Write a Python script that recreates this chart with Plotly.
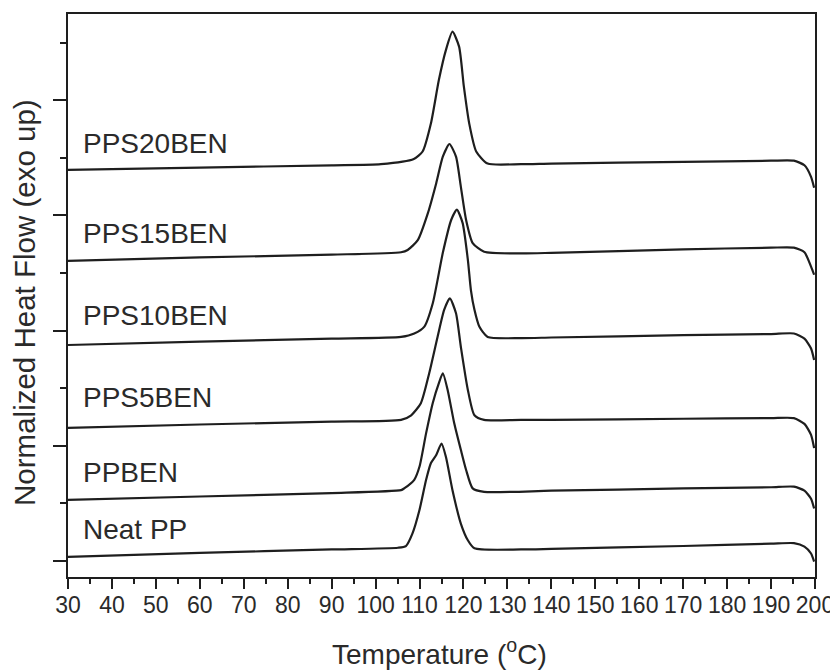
import plotly.graph_objects as go

# Temperature (°C) and normalized heat flow (arbitrary units, offset traces)
temp_neat = [30, 60, 90, 105.1, 106.9, 108.4, 110.0, 111.5, 112.6, 113.8, 115.0, 116.0, 117.5, 119.4, 121.0, 122.5, 133.1, 140, 170, 190, 195.2, 197.6, 199.1, 199.8]
hf_neat = [0.07, 0.14, 0.20, 0.23, 0.26, 0.48, 0.89, 1.41, 1.70, 1.84, 2.04, 1.81, 1.23, 0.65, 0.36, 0.22, 0.20, 0.21, 0.26, 0.30, 0.31, 0.25, 0.13, -0.01]

temp_ppben = [30, 60, 90, 105.8, 106.5, 108.8, 110.0, 111.5, 113.0, 114.5, 115.3, 116.4, 117.9, 119.4, 120.6, 122.1, 124.7, 140, 170, 190, 195.2, 197.6, 199.1, 199.8]
hf_ppben = [1.06, 1.12, 1.18, 1.23, 1.26, 1.41, 1.64, 2.22, 2.74, 3.11, 3.26, 2.97, 2.39, 1.93, 1.58, 1.26, 1.20, 1.22, 1.26, 1.28, 1.29, 1.22, 1.08, 0.91]

temp_pps5 = [30, 60, 90, 105.8, 108.1, 110.3, 112.2, 114.1, 115.6, 116.9, 118.3, 119.4, 121.0, 122.5, 124.7, 133.1, 140, 170, 190, 195.2, 197.6, 199.1, 199.8]
hf_pps5 = [2.31, 2.37, 2.42, 2.45, 2.53, 2.74, 3.26, 3.89, 4.36, 4.56, 4.30, 3.72, 2.97, 2.53, 2.45, 2.45, 2.45, 2.47, 2.48, 2.48, 2.38, 2.19, 1.96]

temp_pps10 = [30, 60, 90, 105.8, 108.8, 111.1, 113.0, 115.3, 117.2, 118.5, 119.8, 121.0, 121.7, 122.5, 123.6, 125.5, 133.1, 140, 170, 190, 195.2, 197.6, 199.1, 199.8]
hf_pps10 = [3.75, 3.81, 3.86, 3.89, 3.95, 4.07, 4.47, 5.35, 5.92, 6.10, 5.87, 5.23, 4.70, 4.36, 4.07, 3.89, 3.87, 3.88, 3.92, 3.94, 3.95, 3.86, 3.69, 3.49]

temp_pps15 = [30, 60, 90, 105.8, 107.3, 109.6, 111.9, 113.8, 115.3, 116.8, 118.3, 119.4, 120.6, 122.1, 124.7, 133.1, 140, 170, 190, 195.2, 197.6, 199.1, 199.8]
hf_pps15 = [5.21, 5.27, 5.32, 5.36, 5.40, 5.57, 6.04, 6.56, 7.02, 7.24, 7.02, 6.50, 5.92, 5.52, 5.37, 5.34, 5.35, 5.41, 5.44, 5.44, 5.36, 5.11, 4.97]

temp_pps20 = [30, 60, 90, 101.2, 108.7, 110.7, 112.6, 114.4, 116.0, 117.5, 119.0, 120.1, 121.3, 122.9, 125.5, 133.1, 140, 170, 190, 195.2, 197.6, 199.1, 199.8]
hf_pps20 = [6.79, 6.83, 6.87, 6.89, 6.98, 7.11, 7.60, 8.35, 8.87, 9.19, 8.93, 8.23, 7.60, 7.11, 6.90, 6.89, 6.90, 6.93, 6.95, 6.95, 6.87, 6.67, 6.48]

series_names = ["Neat PP", "PPBEN", "PPS5BEN", "PPS10BEN", "PPS15BEN", "PPS20BEN"]
series_temps = [temp_neat, temp_ppben, temp_pps5, temp_pps10, temp_pps15, temp_pps20]
series_flows = [hf_neat, hf_ppben, hf_pps5, hf_pps10, hf_pps15, hf_pps20]

label_x = [33.0, 33.0, 33.0, 33.0, 33.0, 33.0]
label_y = [0.54, 1.53, 2.83, 4.27, 5.68, 7.24]

x_ticks = list(range(30, 201, 10))
y_major = [0, 2, 4, 6, 8]
y_minor = [1, 3, 5, 7, 9]

FONT = "Liberation Sans, Arial, sans-serif"
INK = "#1e1e1e"
TXT = "#2a2a2a"

fig = go.Figure()
for name, t, h in zip(series_names, series_temps, series_flows):
    fig.add_trace(go.Scatter(
        x=t, y=h, mode="lines", name=name,
        line=dict(color=INK, width=2.2, shape="spline", smoothing=0.6),
        showlegend=False, hoverinfo="x+y+name",
    ))

for name, lx, ly in zip(series_names, label_x, label_y):
    fig.add_annotation(x=lx, y=ly, text=name, showarrow=False,
                       xanchor="left", yanchor="middle",
                       font=dict(family=FONT, size=28, color=TXT))

# axis titles
fig.add_annotation(xref="paper", yref="paper", x=0.497, y=-0.133,
                   text="Temperature (<sup>o</sup>C)", showarrow=False,
                   xanchor="center", yanchor="middle",
                   font=dict(family=FONT, size=28, color=TXT))
fig.add_annotation(xref="paper", yref="paper", x=-0.058, y=0.488,
                   text="Normalized Heat Flow (exo up)", showarrow=False,
                   textangle=-90, xanchor="center", yanchor="middle",
                   font=dict(family=FONT, size=29.5, color=TXT))

fig.update_layout(
    width=838, height=672,
    margin=dict(l=60, r=31, t=6, b=103),
    paper_bgcolor="white", plot_bgcolor="white",
    font=dict(family=FONT, color=TXT),
    xaxis=dict(
        range=[30, 200], tickvals=x_ticks, ticktext=[str(v) for v in x_ticks],
        ticks="outside", ticklen=10, tickwidth=2, tickcolor=INK,
        minor=dict(dtick=5, tick0=30, ticks="outside", ticklen=5, tickwidth=2, tickcolor=INK, showgrid=False),
        showline=True, linecolor=INK, linewidth=2, mirror=True,
        showgrid=False, zeroline=False, automargin=False,
        tickfont=dict(size=23, family=FONT, color=TXT),
        ticklabelstandoff=-4,
    ),
    yaxis=dict(
        range=[-0.278, 9.497], tickvals=y_major, showticklabels=False,
        ticks="outside", ticklen=13, tickwidth=2, tickcolor=INK,
        minor=dict(tickvals=y_minor, ticks="outside", ticklen=6, tickwidth=2, tickcolor=INK, showgrid=False),
        showline=True, linecolor=INK, linewidth=2, mirror=True,
        showgrid=False, zeroline=False, automargin=False,
    ),
)

fig.write_html("out.html")
